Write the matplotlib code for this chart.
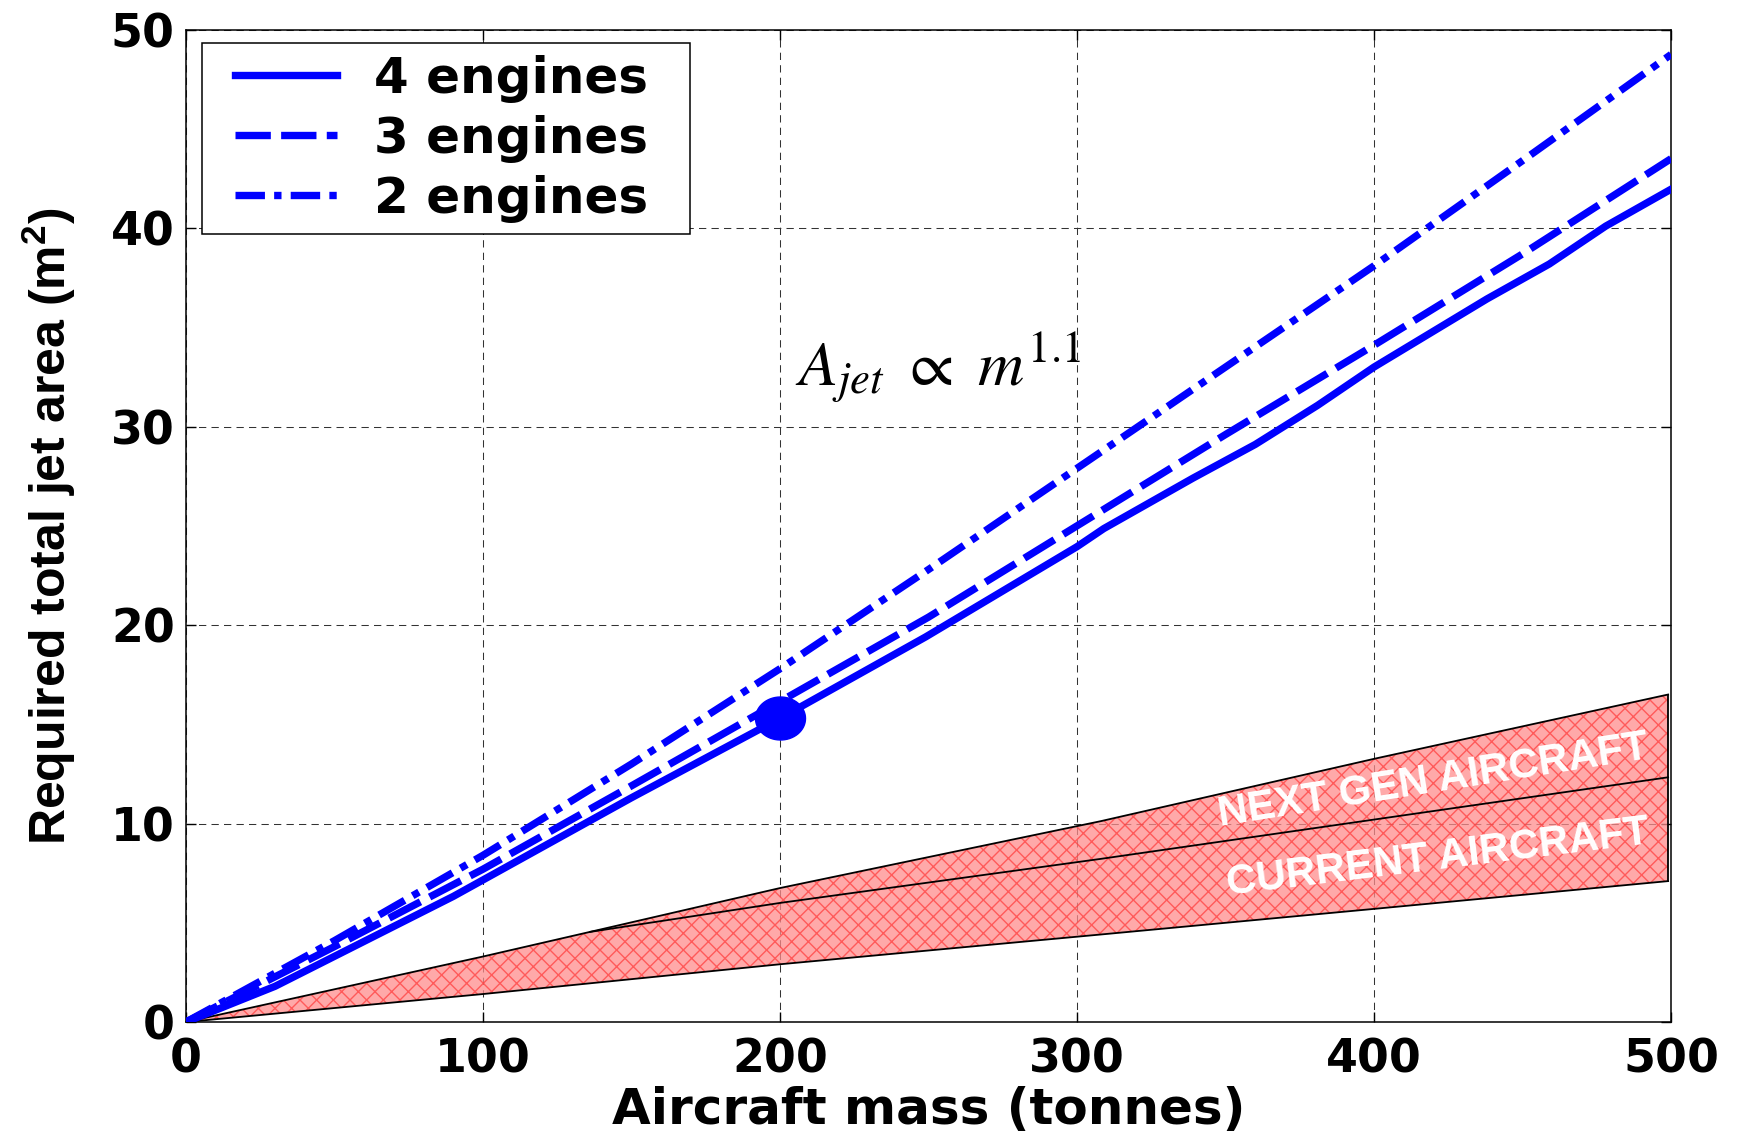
import numpy as np
import matplotlib
matplotlib.use("Agg")
import matplotlib.pyplot as plt
from matplotlib.path import Path
from matplotlib.font_manager import FontProperties
from matplotlib.legend_handler import HandlerLine2D

# ---------------- data ----------------
mass = [0, 50, 100, 150, 200, 250, 300, 350, 400, 450, 500]
area_3eng = [0, 3.8, 7.7, 11.9, 16.15, 20.4, 25.0, 29.6, 34.1, 38.7, 43.5]
area_2eng = [0, 4.1, 8.4, 13.0, 17.8, 22.8, 27.9, 33.0, 38.1, 43.4, 48.75]

mass_4eng = [0, 30, 90, 150, 200, 249, 300, 309, 339, 360, 381, 400, 438, 459, 478, 500]
area_4eng = [0, 1.8, 6.33, 11.3, 15.3, 19.4, 23.95, 24.86, 27.4, 29.1, 31.07, 33.0,
             36.43, 38.19, 40.1, 41.96]

band_mass = [0, 100, 136, 200, 308, 400, 499]
band_upper = [0, 3.3, 4.54, 6.75, 10.12, 13.26, 16.5]
band_lower = [0, 1.41, 1.95, 2.91, 4.41, 5.7, 7.1]
split_mass = [136, 200, 308, 400, 499]
split_area = [4.54, 6.0, 8.22, 10.2, 12.33]

design_mass = [200]
design_area = [15.3]

labels = ["4 engines", "3 engines", "2 engines"]
xticks = [0, 100, 200, 300, 400, 500]
yticks = [0, 10, 20, 30, 40, 50]

# ---------------- style ----------------
plt.rcParams['font.family'] = ['DejaVu Sans']
plt.rcParams['mathtext.fontset'] = 'custom'
plt.rcParams['mathtext.rm'] = 'Liberation Sans:bold'
plt.rcParams['mathtext.bf'] = 'Liberation Sans:bold'

fig = plt.figure(figsize=(17.38, 11.39), dpi=100)
ax = fig.add_axes([0.1070, 0.1027, 0.8545, 0.8713])

blue = '#0000ff'
lw = 5.3

# shaded band
ax.fill_between(band_mass, band_lower, band_upper, facecolor='#ff8c8c', alpha=0.75,
                edgecolor='#ff4040', hatch='xx', linewidth=0, zorder=1)
ax.plot(band_mass, band_upper, color='black', lw=1.3, zorder=2)
ax.plot(band_mass, band_lower, color='black', lw=1.3, zorder=2)
ax.plot(split_mass, split_area, color='black', lw=1.3, zorder=2)
ax.plot([band_mass[-1], band_mass[-1]], [band_lower[-1], band_upper[-1]],
        color='black', lw=1.3, zorder=2)

# engine curves
l4, = ax.plot(mass_4eng, area_4eng, color=blue, lw=lw, solid_joinstyle='round',
              zorder=3, label=labels[0])
l3, = ax.plot(mass, area_3eng, color=blue, lw=lw, linestyle=(0, (4.8, 1.4)),
              zorder=3, label=labels[1])
l2, = ax.plot(mass, area_2eng, color=blue, lw=lw,
              linestyle=(0, (4.0, 1.25, 1.0, 1.25)), zorder=3, label=labels[2])

# design point (slightly elliptical marker)
t = np.linspace(0, 2 * np.pi, 64)
ell = Path(np.column_stack([np.cos(t), 0.86 * np.sin(t)]), closed=True)
ax.plot(design_mass, design_area, linestyle='none', marker=ell, markersize=36,
        color=blue, zorder=5)

# annotations
ax.text(205, 32.04, r'$A_{jet}\ \propto\ m^{1.1}$', fontsize=46,
        math_fontfamily='stix', fontweight='normal', ha='left', va='baseline',
        zorder=6)
band_font = FontProperties(family='Liberation Sans', weight='bold', size=30)
ax.text(420, 12.14, 'NEXT GEN AIRCRAFT', color='white', fontproperties=band_font,
        rotation=9, ha='center', va='center', rotation_mode='anchor', zorder=6)
ax.text(421.5, 8.26, 'CURRENT AIRCRAFT', color='white', fontproperties=band_font,
        rotation=7, ha='center', va='center', rotation_mode='anchor', zorder=6)

# axes
ax.set_xlim(0, 500)
ax.set_ylim(0, 50)
ax.set_xticks(xticks)
ax.set_yticks(yticks)
ax.set_xticklabels([str(v) for v in xticks])
ax.set_yticklabels([str(v) for v in yticks])
ax.grid(True, color='0.2', linestyle=(0, (7, 5)), linewidth=0.75)
ax.set_axisbelow(True)
ax.tick_params(axis='both', direction='in', length=7, width=1, top=True, right=True,
               labelsize=33)
ax.tick_params(axis='x', pad=11)
ax.tick_params(axis='y', pad=8)
for lab in ax.get_xticklabels() + ax.get_yticklabels():
    lab.set_fontweight('bold')
for s in ax.spines.values():
    s.set_linewidth(1.1)
    s.set_color('black')

ax.set_xlabel('Aircraft mass (tonnes)', fontsize=36, fontweight='bold', labelpad=3)
ylab_font = FontProperties(family='Liberation Sans', weight='bold', size=36)
ax.set_ylabel(r'Required total jet area (m$^\mathbf{2}$)', fontproperties=ylab_font)
ax.yaxis.set_label_coords(-0.073, 0.5)

handler = HandlerLine2D(numpoints=2, marker_pad=0.43)
leg = ax.legend(handles=[l4, l3, l2], loc='upper left',
                bbox_to_anchor=(0.0108, 0.9864, 0.3286, 0.0), mode='expand',
                borderaxespad=0, prop=FontProperties(family='DejaVu Sans',
                                                     weight='bold', size=36),
                frameon=True, fancybox=False,
                framealpha=1, edgecolor='black', borderpad=0.23,
                labelspacing=0.24, handlelength=2.9, handletextpad=0.31,
                handler_map={l4: handler, l3: handler, l2: handler})
leg.get_frame().set_linewidth(1.1)

fig.savefig('out.png', dpi=100)
